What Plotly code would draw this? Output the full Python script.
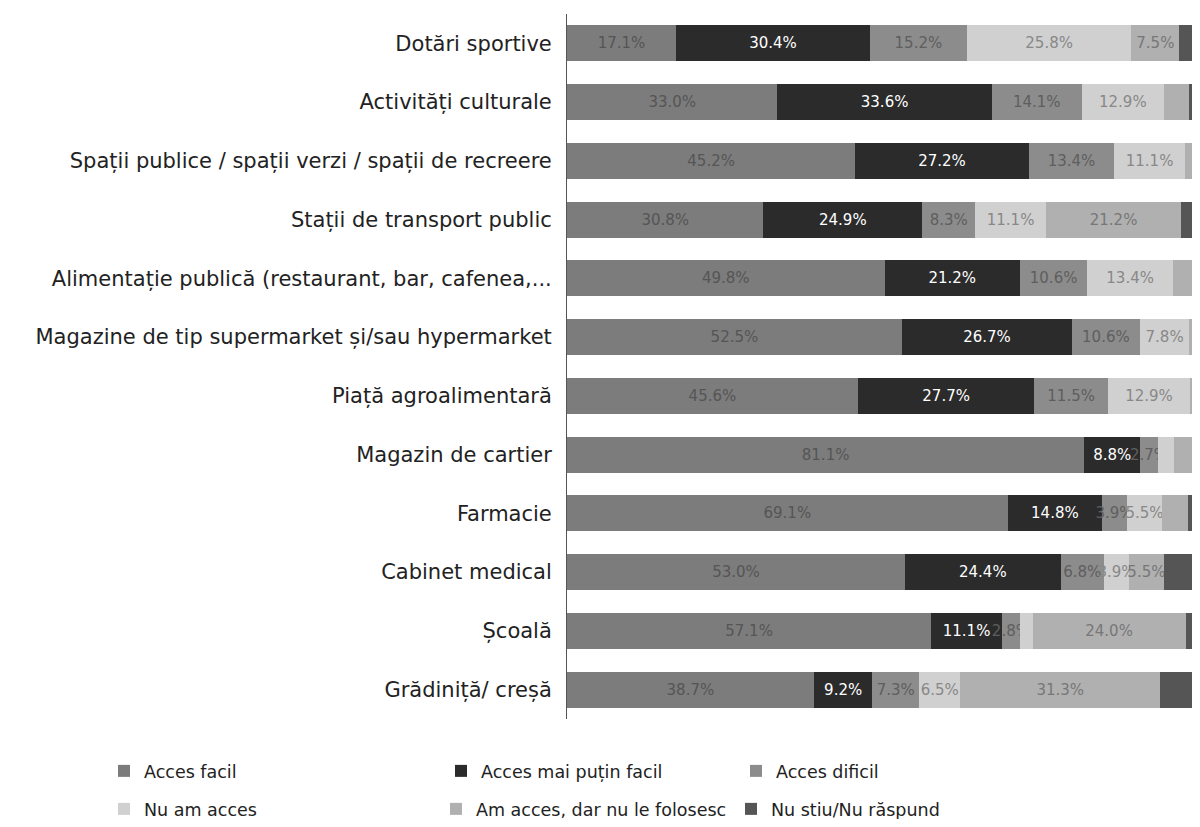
import plotly.graph_objects as go

categories = [
    "Dotări sportive",
    "Activități culturale",
    "Spații publice / spații verzi / spații de recreere",
    "Stații de transport public",
    "Alimentație publică (restaurant, bar, cafenea,...",
    "Magazine de tip supermarket și/sau hypermarket",
    "Piață agroalimentară",
    "Magazin de cartier",
    "Farmacie",
    "Cabinet medical",
    "Școală",
    "Grădiniță/ creșă",
]

series_names = [
    "Acces facil",
    "Acces mai puțin facil",
    "Acces dificil",
    "Nu am acces",
    "Am acces, dar nu le folosesc",
    "Nu stiu/Nu răspund",
]

acces_facil = [17.1, 33.0, 45.2, 30.8, 49.8, 52.5, 45.6, 81.1, 69.1, 53.0, 57.1, 38.7]
acces_mai_putin_facil = [30.4, 33.6, 27.2, 24.9, 21.2, 26.7, 27.7, 8.8, 14.8, 24.4, 11.1, 9.2]
acces_dificil = [15.2, 14.1, 13.4, 8.3, 10.6, 10.6, 11.5, 2.7, 3.9, 6.8, 2.8, 7.3]
nu_am_acces = [25.8, 12.9, 11.1, 11.1, 13.4, 7.8, 12.9, 2.5, 5.5, 3.9, 2.0, 6.5]
am_acces_nu_folosesc = [7.5, 4.0, 1.6, 21.2, 3.0, 1.4, 1.3, 3.0, 4.0, 5.5, 24.0, 31.3]
nu_stiu = [4.0, 2.4, 1.5, 3.7, 2.0, 1.0, 1.0, 1.9, 2.7, 6.4, 3.0, 7.0]

values = [acces_facil, acces_mai_putin_facil, acces_dificil, nu_am_acces,
          am_acces_nu_folosesc, nu_stiu]

colors = ["#7c7c7c", "#2b2b2b", "#8c8c8c", "#d0d0d0", "#b0b0b0", "#555555"]
text_colors = ["#555555", "#ffffff", "#5e5e5e", "#888888", "#777777", "#dddddd"]
min_label = [2.6, 2.6, 2.6, 3.0, 5.0, 100.0]

# figure is shown with the page's 8px body margin, so figure coords = page coords - 8
W, H = 1184, 811
# legend placement (figure pixels): left edge, vertical centre
legend_pos = [(96, 763), (433, 763), (728, 763), (96, 801), (428, 801), (723, 801)]

font_family = "DejaVu Sans, Open Sans, sans-serif"

fig = go.Figure()
legend_layouts = {}
for i, (name, vals) in enumerate(zip(series_names, values)):
    texts = [f"{v:.1f}%" if v >= min_label[i] else "" for v in vals]
    lname = "legend" if i == 0 else f"legend{i + 1}"
    fig.add_trace(go.Bar(
        y=categories,
        x=vals,
        name=name,
        orientation="h",
        marker=dict(color=colors[i], line=dict(width=0)),
        text=texts,
        textposition="inside",
        insidetextanchor="middle",
        textangle=0,
        textfont=dict(color=text_colors[i], size=15, family=font_family),
        cliponaxis=True,
        hoverinfo="skip",
        legend=lname,
    ))
    lx, ly = legend_pos[i]
    legend_layouts[lname] = dict(
        orientation="h",
        xref="container",
        yref="container",
        x=lx / W,
        y=1 - ly / H,
        xanchor="left",
        yanchor="middle",
        font=dict(size=17.5, family=font_family, color="#222222"),
        bgcolor="rgba(0,0,0,0)",
        itemclick=False,
        itemdoubleclick=False,
    )

fig.update_layout(
    width=W,
    height=H,
    barmode="stack",
    bargap=0.39,
    paper_bgcolor="white",
    plot_bgcolor="white",
    margin=dict(l=559, r=0, t=6, b=100, autoexpand=False),
    uniformtext=dict(minsize=15, mode="show"),
    xaxis=dict(range=[0, 98.0], visible=False, showgrid=False, zeroline=False),
    yaxis=dict(
        autorange="reversed",
        showline=True,
        linecolor="#555555",
        linewidth=1,
        ticks="",
        showgrid=False,
        ticklabelstandoff=10,
        tickfont=dict(size=21, family=font_family, color="#222222"),
        automargin=False,
    ),
    showlegend=True,
    **legend_layouts,
)

fig.write_html("out.html")
